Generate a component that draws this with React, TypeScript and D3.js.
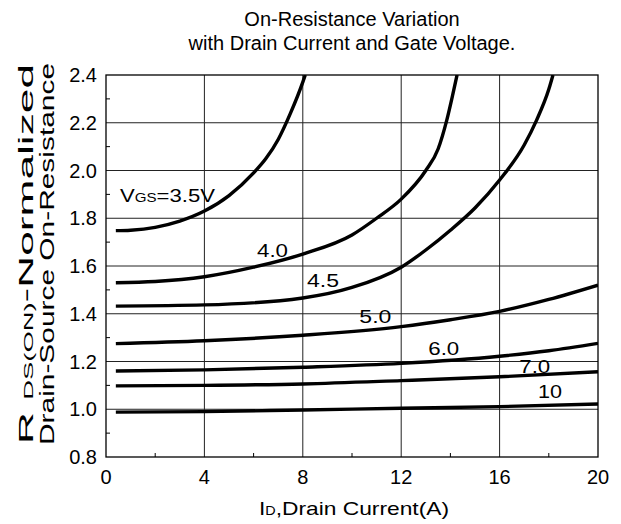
import React from 'react';
import * as d3 from 'd3';

// ---- data ----
const xTicks = [0, 4, 8, 12, 16, 20];
const xMinorTicks = [2, 6, 10, 14, 18];
const yTicks = [0.8, 1.0, 1.2, 1.4, 1.6, 1.8, 2.0, 2.2, 2.4];
const yMinorTicks = [0.9, 1.1, 1.3, 1.5, 1.7, 1.9, 2.1, 2.3];
const yTickLabels = ['0.8', '1.0', '1.2', '1.4', '1.6', '1.8', '2.0', '2.2', '2.4'];

const vgs35Id = [0.4, 1, 2, 3, 4, 5, 6, 6.5, 7, 7.5, 8, 8.1];
const vgs35R = [1.748, 1.75, 1.762, 1.788, 1.83, 1.895, 1.99, 2.05, 2.13, 2.24, 2.37, 2.4];

const vgs40Id = [0.4, 2, 4, 6, 8, 10, 11, 12, 13, 13.5, 13.85, 14.1, 14.27];
const vgs40R = [1.53, 1.535, 1.555, 1.595, 1.65, 1.73, 1.8, 1.88, 2.0, 2.09, 2.21, 2.32, 2.4];

const vgs45Id = [0.4, 4, 8, 10, 12, 13, 14, 15, 16, 17, 17.5, 18, 18.17];
const vgs45R = [1.432, 1.437, 1.466, 1.51, 1.595, 1.667, 1.75, 1.843, 1.96, 2.107, 2.21, 2.34, 2.4];

const vgs50Id = [0.4, 4, 8, 12, 14, 16, 18, 20];
const vgs50R = [1.275, 1.287, 1.31, 1.346, 1.375, 1.41, 1.46, 1.52];

const vgs60Id = [0.4, 4, 8, 12, 16, 18, 20];
const vgs60R = [1.16, 1.165, 1.176, 1.192, 1.222, 1.245, 1.276];

const vgs70Id = [0.4, 4, 8, 12, 16, 20];
const vgs70R = [1.098, 1.1, 1.106, 1.12, 1.136, 1.157];

const vgs10Id = [0.4, 4, 8, 12, 16, 20];
const vgs10R = [0.988, 0.99, 0.997, 1.004, 1.011, 1.022];

const seriesId = [vgs35Id, vgs40Id, vgs45Id, vgs50Id, vgs60Id, vgs70Id, vgs10Id];
const seriesR = [vgs35R, vgs40R, vgs45R, vgs50R, vgs60R, vgs70R, vgs10R];

const curveLabels = ['3.5V', '4.0', '4.5', '5.0', '6.0', '7.0', '10'];
const labelAtId = [0.57, 6.14, 8.17, 10.3, 13.1, 16.8, 17.56];
const labelAtR = [1.868, 1.638, 1.513, 1.361, 1.227, 1.152, 1.047];
const labelWidths = [95, 31, 32, 32, 31, 31, 24];

const titleLines = ['On-Resistance Variation', 'with Drain Current and Gate Voltage.'];

// ---- layout ----
const W = 621;
const H = 524;
const left = 106;
const right = 598;
const top = 75;
const bottom = 457;
const FONT = "'Liberation Sans', Arial, Helvetica, sans-serif";

export default function App() {
  const x = d3.scaleLinear().domain([0, 20]).range([left, right]);
  const y = d3.scaleLinear().domain([0.8, 2.4]).range([bottom, top]);
  const line = d3
    .line<[number, number]>()
    .x((d) => x(d[0]))
    .y((d) => y(d[1]))
    .curve(d3.curveMonotoneX);

  return (
    <svg
      width={W}
      height={H}
      style={{ position: 'absolute', left: 0, top: 0, background: '#fff' }}
      fontFamily={FONT}
    >
      <defs>
        <clipPath id="plotclip">
          <rect x={left} y={top} width={right - left} height={bottom - top} />
        </clipPath>
      </defs>
      <rect x={0} y={0} width={W} height={H} fill="#fff" />
      {/* title */}
      <text x={352} y={26} textAnchor="middle" fontSize={20} fill="#000">
        {titleLines[0]}
      </text>
      <text x={352} y={50} textAnchor="middle" fontSize={20} fill="#000">
        {titleLines[1]}
      </text>

      {/* grid */}
      {xTicks.slice(1, -1).map((t) => (
        <line key={'gx' + t} x1={x(t)} x2={x(t)} y1={top} y2={bottom} stroke="#222" strokeWidth={1} />
      ))}
      {yTicks.slice(1, -1).map((t) => (
        <line key={'gy' + t} x1={left} x2={right} y1={y(t)} y2={y(t)} stroke="#222" strokeWidth={1} />
      ))}
      {/* minor ticks */}
      {xMinorTicks.map((t) => (
        <line key={'mx' + t} x1={x(t)} x2={x(t)} y1={bottom} y2={bottom - 4} stroke="#000" strokeWidth={1} />
      ))}
      {yMinorTicks.map((t) => (
        <line key={'my' + t} x1={left} x2={left + 4} y1={y(t)} y2={y(t)} stroke="#000" strokeWidth={1} />
      ))}
      {/* frame */}
      <rect x={left} y={top} width={right - left} height={bottom - top} fill="none" stroke="#000" strokeWidth={1.3} />

      {/* curves */}
      <g clipPath="url(#plotclip)">
        {seriesId.map((ids, i) => {
          const pts = ids.map((v, j) => [v, seriesR[i][j]] as [number, number]);
          return (
            <path key={'c' + i} d={line(pts) || ''} fill="none" stroke="#000" strokeWidth={3.4} strokeLinecap="butt" />
          );
        })}
      </g>

      {/* curve labels */}
      <text
        x={x(labelAtId[0])}
        y={y(labelAtR[0])}
        fontSize={19}
        fill="#000"
        textLength={labelWidths[0]}
        lengthAdjust="spacingAndGlyphs"
      >
        V<tspan fontSize={13}>GS</tspan>={curveLabels[0]}
      </text>
      {curveLabels.slice(1).map((l, i) => (
        <text
          key={'l' + i}
          x={x(labelAtId[i + 1])}
          y={y(labelAtR[i + 1])}
          fontSize={19}
          fill="#000"
          textLength={labelWidths[i + 1]}
          lengthAdjust="spacingAndGlyphs"
        >
          {l}
        </text>
      ))}

      {/* axis tick labels */}
      {xTicks.map((t) => (
        <text key={'tx' + t} x={x(t)} y={484} textAnchor="middle" fontSize={20} fill="#000">
          {String(t)}
        </text>
      ))}
      {yTicks.map((t, i) => (
        <text key={'ty' + t} x={97} y={y(t) + 7} textAnchor="end" fontSize={20} fill="#000">
          {yTickLabels[i]}
        </text>
      ))}

      {/* axis titles */}
      <text
        x={354}
        y={515}
        textAnchor="middle"
        fontSize={19}
        fill="#000"
        textLength={190}
        lengthAdjust="spacingAndGlyphs"
      >
        I<tspan fontSize={12}>D</tspan>,Drain Current(A)
      </text>
      <text
        transform="translate(33,254) rotate(-90)"
        textAnchor="middle"
        fontSize={21}
        fill="#000"
        textLength={380}
        lengthAdjust="spacingAndGlyphs"
      >
        R <tspan fontSize={13}>DS(ON)</tspan>-Normalized
      </text>
      <text
        transform="translate(54,254) rotate(-90)"
        textAnchor="middle"
        fontSize={21}
        fill="#000"
        textLength={382}
        lengthAdjust="spacingAndGlyphs"
      >
        Drain-Source On-Resistance
      </text>
    </svg>
  );
}
